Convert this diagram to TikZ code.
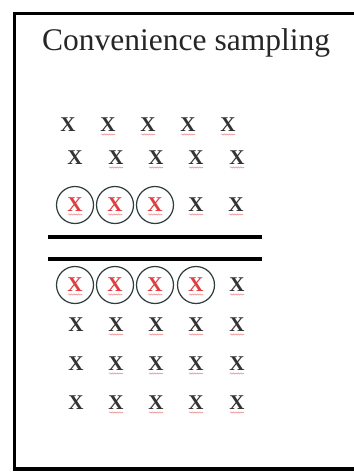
\documentclass[tikz,border=0pt]{standalone}
\usepackage{fontspec}
\setmainfont{Liberation Serif}
\usetikzlibrary{decorations.pathmorphing}
\definecolor{xred}{RGB}{225,60,65}
\definecolor{ringcol}{RGB}{45,60,60}
\definecolor{squig}{RGB}{238,155,155}
\tikzset{
  mark x/.style={inner sep=0pt, font=\fontsize{21}{21}\selectfont\bfseries, text=black!80},
  ring x/.style={circle, draw=ringcol, line width=1.2pt, minimum size=37pt, inner sep=0pt,
                 font=\fontsize{21}{21}\selectfont\bfseries, text=xred},
  squiggle/.style={draw=squig, line width=0.6pt, decorate,
                   decoration={snake, segment length=2.5pt, amplitude=0.6pt}},
  frameline/.style={line width=3.2pt, draw=black},
  sepline/.style={line width=3.6pt, draw=black}
}
\newcommand{\squigunder}[1]{\draw[squiggle] ([xshift=-7pt,yshift=-9.5pt]#1.center) -- ([xshift=7pt,yshift=-9.5pt]#1.center);}
\begin{document}
\begin{tikzpicture}[x=1pt,y=-1pt]
\useasboundingbox (0,0) rectangle (353,473);
\fill[white] (0,0) rectangle (353,473);
% frame (right side runs off the picture)
\draw[frameline] (365,13.3) -- (14.5,13.3) -- (14.5,469) -- (365,469);
% title
\node[anchor=base west, inner sep=0pt, font=\fontsize{31.5}{36}\selectfont, text=black!85] (title) at (42,51) {Convenience sampling};
% row 1
\foreach \c/\xx in {1/68,2/108,3/148,4/188,5/228}{
  \node[mark x] (r1c\c) at (\xx,125) {X};
}
% row 2
\foreach \c/\xx in {1/75,2/116,3/156,4/196,5/237}{
  \node[mark x] (r2c\c) at (\xx,158) {X};
}
% row 3
\foreach \c/\xx in {1/75,2/115,3/155}{
  \node[ring x] (r3c\c) at (\xx,205) {X};
}
\foreach \c/\xx in {4/196,5/236}{
  \node[mark x] (r3c\c) at (\xx,205) {X};
}
% separators
\coordinate (s1a) at (48,237); \coordinate (s1b) at (262,237);
\coordinate (s2a) at (48,259); \coordinate (s2b) at (262,259);
\draw[sepline] (s1a) -- (s1b);
\draw[sepline] (s2a) -- (s2b);
% row 4
\foreach \c/\xx in {1/75,2/115,3/155,4/196}{
  \node[ring x] (r4c\c) at (\xx,285) {X};
}
\node[mark x] (r4c5) at (237,285) {X};
% rows 5-7
\foreach \r/\yy in {5/325,6/364,7/403}{
  \foreach \c/\xx in {1/76,2/116,3/156,4/196,5/237}{
    \node[mark x] (r\r c\c) at (\xx,\yy) {X};
  }
}
% spell-check squiggles
\foreach \r in {1,2,5,6,7}{
  \foreach \c in {2,3,4,5}{ \squigunder{r\r c\c} }
}
\foreach \c in {1,2,3,4,5}{ \squigunder{r3c\c} }
\foreach \c in {1,2,3,4,5}{ \squigunder{r4c\c} }
\end{tikzpicture}
\end{document}
